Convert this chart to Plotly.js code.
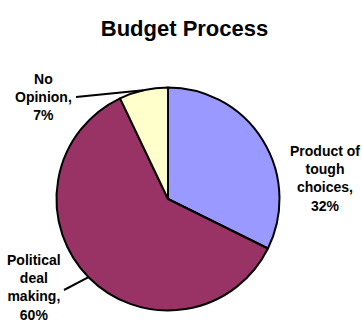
<!DOCTYPE html>
<html>
<head>
<meta charset="utf-8">
<script src="https://cdn.plot.ly/plotly-3.0.1.min.js"></script>
<style>html,body{margin:0;padding:0;background:#fff;}#chart{width:362px;height:328px;}</style>
</head>
<body>
<div id="chart"></div>
<script>
// ---- data ----
var categories = ["Product of tough choices", "Political deal making", "No Opinion"];
var values = [32, 60, 7];
var labelLines = ["Product of<br>tough<br>choices,", "Political<br>deal<br>making,", "No<br>Opinion,"];
var colors = ["#9999FF", "#993366", "#FFFFCC"];

// ---- geometry / style ----
var W = 362, H = 328;
var cx = 168, cy = 199, R = 111.5;
var FONT = "Liberation Sans, Arial, Helvetica, sans-serif";
// label centre [x, y] and leader-line tail [x, y] (null = no leader)
var labelPos = [[325, 178], [34, 287], [43, 97]];
var leaderTail = [null, [64, 290], [76, 97]];

var total = values.reduce(function(a, b){ return a + b; }, 0);
var annotations = [];
var shapes = [];
var cum = 0;
for (var i = 0; i < values.length; i++) {
  var mid = (cum + values[i] / 2) / total * 2 * Math.PI;
  cum += values[i];
  var tx = cx + R * Math.sin(mid), ty = cy - R * Math.cos(mid);
  var txt = "<b>" + labelLines[i] + "<br>" + values[i] + "%</b>";
  var lp = labelPos[i];
  annotations.push({
    xref: "paper", yref: "paper",
    x: lp[0] / W, y: 1 - lp[1] / H, xanchor: "center", yanchor: "middle",
    text: txt, showarrow: false,
    font: {family: FONT, size: 14, color: "#000"}, align: "center"
  });
  var lt = leaderTail[i];
  if (lt) {
    shapes.push({
      type: "line", xref: "paper", yref: "paper", layer: "above",
      x0: lt[0] / W, y0: 1 - lt[1] / H, x1: tx / W, y1: 1 - ty / H,
      line: {color: "#000", width: 2}
    });
  }
}

var trace = {
  type: "pie",
  labels: categories,
  values: values,
  sort: false,
  direction: "clockwise",
  rotation: 0,
  textinfo: "none",
  hoverinfo: "label+percent",
  marker: {colors: colors, line: {color: "#000", width: 2}},
  domain: {x: [(cx - R) / W, (cx + R) / W], y: [1 - (cy + R) / H, 1 - (cy - R) / H]},
  showlegend: false
};

var layout = {
  width: W, height: H,
  margin: {l: 0, r: 0, t: 0, b: 0},
  paper_bgcolor: "#fff",
  title: {text: "<b>Budget Process</b>", x: 184.5 / W, xanchor: "center", y: 1 - 28 / H, yanchor: "middle",
          font: {family: FONT, size: 22, color: "#000"}},
  annotations: annotations,
  shapes: shapes,
  showlegend: false
};

Plotly.newPlot("chart", [trace], layout, {displayModeBar: false, staticPlot: true}).then(function(){
  // nothing further
});
</script>
</body>
</html>
